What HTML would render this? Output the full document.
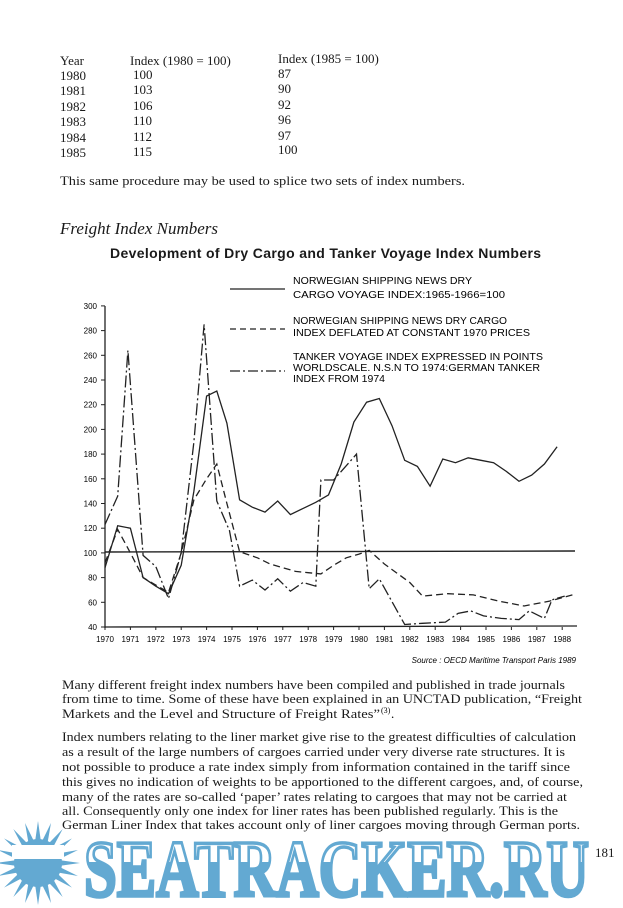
<!DOCTYPE html>
<html><head><meta charset="utf-8"><style>
body{margin:0;width:623px;height:908px;background:#fff;overflow:hidden;position:relative;font-family:"Liberation Serif",serif;color:#1a1a1a}
.t{position:absolute;font-size:13px;white-space:nowrap;line-height:1}
</style></head><body>
<div class="t" style="left:60px;top:54px">Year</div><div class="t" style="left:130px;top:54px">Index (1980 = 100)</div><div class="t" style="left:278px;top:52px">Index (1985 = 100)</div>
<div class="t" style="left:60px;top:69px">1980</div><div class="t" style="left:133px;top:68px">100</div><div class="t" style="left:278px;top:67px">87</div>
<div class="t" style="left:60px;top:84px">1981</div><div class="t" style="left:133px;top:83px">103</div><div class="t" style="left:278px;top:82px">90</div>
<div class="t" style="left:60px;top:100px">1982</div><div class="t" style="left:133px;top:99px">106</div><div class="t" style="left:278px;top:98px">92</div>
<div class="t" style="left:60px;top:115px">1983</div><div class="t" style="left:133px;top:114px">110</div><div class="t" style="left:278px;top:113px">96</div>
<div class="t" style="left:60px;top:131px">1984</div><div class="t" style="left:133px;top:130px">112</div><div class="t" style="left:278px;top:129px">97</div>
<div class="t" style="left:60px;top:146px">1985</div><div class="t" style="left:133px;top:145px">115</div><div class="t" style="left:278px;top:143px">100</div>
<div class="t" style="left:60px;top:220px;font-size:17px;font-style:italic">Freight Index Numbers</div>
<div class="t" style="left:110px;top:246px;font-family:'Liberation Sans',sans-serif;font-weight:bold;font-size:14px;letter-spacing:0.35px">Development of Dry Cargo and Tanker Voyage Index Numbers</div>

<svg id="c" width="623" height="908" style="position:absolute;left:0;top:0" font-family="Liberation Sans, sans-serif"></svg>
<div class="t" style="left:595px;top:846px">181</div>

<script>
const s=document.getElementById('c');let h='';
const X=y=>105+(y-1970)*25.4, Y=v=>627-(v-40)*1.235;
const pl=(d,extra)=>{let p=d.map(a=>X(a[0]).toFixed(1)+','+Y(a[1]).toFixed(1)).join(' ');h+=`<polyline points="${p}" fill="none" stroke="#222" stroke-width="1.3" ${extra}/>`;};
h+=`<line x1="105" y1="306" x2="105" y2="628" stroke="#222" stroke-width="1.3"/><line x1="105" y1="627" x2="577" y2="626" stroke="#222" stroke-width="1.3"/>`;
for(let v=40;v<=300;v+=20){h+=`<line x1="101" x2="105" y1="${Y(v)}" y2="${Y(v)}" stroke="#222"/><text x="97" y="${Y(v)+3}" font-size="8" text-anchor="end">${v}</text>`;}
for(let y=1970;y<=1988;y++){h+=`<line x1="${X(y)}" x2="${X(y)}" y1="627" y2="630" stroke="#222"/><text x="${X(y)}" y="642" font-size="8" text-anchor="middle">${y}</text>`;}
h+=`<line x1="105" y1="552" x2="575" y2="551" stroke="#222" stroke-width="1.4"/>`;
pl([[1970,88],[1970.5,122],[1971,120],[1971.5,80],[1972,73],[1972.5,67],[1973,90],[1973.5,150],[1974,227],[1974.4,231],[1974.8,205],[1975.3,143],[1975.8,137],[1976.3,133],[1976.8,142],[1977.3,131],[1977.8,136],[1978.3,141],[1978.8,147],[1979.3,172],[1979.8,206],[1980.3,222],[1980.8,225],[1981.3,203],[1981.8,175],[1982.3,170],[1982.8,154],[1983.3,176],[1983.8,173],[1984.3,177],[1984.8,175],[1985.3,173],[1985.8,166],[1986.3,158],[1986.8,163],[1987.3,172],[1987.8,186]],'');
pl([[1970,92],[1970.5,119],[1971,100],[1971.5,80],[1972,74],[1972.5,68],[1973,100],[1973.5,143],[1974,160],[1974.4,172],[1974.8,140],[1975.3,101],[1976,96],[1976.5,91],[1977,88],[1977.5,85],[1978,84],[1978.5,83],[1979,90],[1979.5,96],[1980,99],[1980.4,102],[1981,91],[1982,76],[1982.5,65],[1983.5,67],[1984.5,66],[1985.5,61],[1986.5,57],[1987.5,61],[1988.4,66]],'stroke-dasharray="7 4"');
pl([[1970,123],[1970.5,146],[1970.9,264],[1971.5,98],[1972,89],[1972.5,63],[1973,100],[1973.5,190],[1973.9,285],[1974.4,142],[1974.9,118],[1975.3,73],[1975.8,78],[1976.3,70],[1976.8,79],[1977.3,69],[1977.8,76],[1978.3,73],[1978.5,159],[1979,159],[1979.9,180],[1980.4,71],[1980.8,79],[1981.8,42],[1982.5,43],[1983.4,44],[1983.9,51],[1984.4,53],[1984.9,49],[1985.6,47],[1986.3,46],[1986.7,53],[1987.3,47],[1987.6,62],[1988.1,65]],'stroke-dasharray="12 3 2 3"');
h+=`<line x1="230" x2="285" y1="289" y2="289" stroke="#222" stroke-width="1.2"/><line x1="230" x2="285" y1="329" y2="329" stroke="#222" stroke-width="1.2" stroke-dasharray="6 4"/><line x1="230" x2="285" y1="371" y2="371" stroke="#222" stroke-width="1.2" stroke-dasharray="10 3 2 3"/>`;
const L=[[284,'NORWEGIAN SHIPPING NEWS DRY',179],[298,'CARGO VOYAGE INDEX:1965-1966=100',212],[324,'NORWEGIAN SHIPPING NEWS DRY CARGO',214],[336,'INDEX DEFLATED AT CONSTANT 1970 PRICES',237],[360,'TANKER VOYAGE INDEX EXPRESSED IN POINTS',250],[371,'WORLDSCALE. N.S.N TO 1974:GERMAN TANKER',247],[382,'INDEX FROM 1974',92]];
L.forEach(a=>h+=`<text x="293" y="${a[0]}" font-size="10" textLength="${a[2]}" lengthAdjust="spacingAndGlyphs">${a[1]}</text>`);
h+=`<text x="576" y="663" font-size="8" font-style="italic" text-anchor="end">Source : OECD Maritime Transport Paris 1989</text>`;
const B=[[60,185,405,'This same procedure may be used to splice two sets of index numbers.'],
[62,689,503,'Many different freight index numbers have been compiled and published in trade journals'],
[62,703,520,'from time to time. Some of these have been explained in an UNCTAD publication, “Freight'],
[62,741,514,'Index numbers relating to the liner market give rise to the greatest difficulties of calculation'],
[62,756,503,'as a result of the large numbers of cargoes carried under very diverse rate structures. It is'],
[62,771,508,'not possible to produce a rate index simply from information contained in the tariff since'],
[62,786,521,'this gives no indication of weights to be apportioned to the different cargoes, and, of course,'],
[62,801,505,'many of the rates are so-called ‘paper’ rates relating to cargoes that may not be carried at'],
[62,815,496,'all. Consequently only one index for liner rates has been published regularly. This is the'],
[62,829,518,'German Liner Index that takes account only of liner cargoes moving through German ports.']];
B.forEach(b=>h+=`<text x="${b[0]}" y="${b[1]}" font-family="Liberation Serif, serif" font-size="13" fill="#1a1a1a" textLength="${b[2]}" lengthAdjust="spacingAndGlyphs">${b[3]}</text>`);
h+=`<text x="62" y="718" font-family="Liberation Serif, serif" font-size="13" fill="#1a1a1a" textLength="318" lengthAdjust="spacingAndGlyphs">Markets and the Level and Structure of Freight Rates”</text><text x="381" y="713" font-family="Liberation Serif, serif" font-size="8">(3)</text><text x="391" y="718" font-family="Liberation Serif, serif" font-size="13">.</text>`;
let sun='';for(let i=0;i<20;i++){const a=i*Math.PI*2/20,b=a+0.16,c=a-0.16;sun+=`<polygon points="${38+Math.cos(a)*42},${863+Math.sin(a)*42} ${38+Math.cos(b)*20},${863+Math.sin(b)*20} ${38+Math.cos(c)*20},${863+Math.sin(c)*20}" fill="#63a9d2"/>`;}
h+=sun+`<circle cx="38" cy="863" r="24" fill="#63a9d2"/><rect x="12" y="845" width="52" height="14" fill="#fff"/>`;
h+=`<defs><clipPath id="lo"><rect x="0" y="862" width="623" height="50"/></clipPath></defs>`;
const T=`font-family="Liberation Serif, serif" font-weight="bold" font-size="80" textLength="505" lengthAdjust="spacingAndGlyphs"`;
h+=`<text x="84" y="896" ${T} fill="none" stroke="#63a9d2" stroke-width="3.5">SEATRACKER.RU</text>`;
h+=`<text x="84" y="896" ${T} fill="#63a9d2" clip-path="url(#lo)">SEATRACKER.RU</text>`;
s.innerHTML=h;
</script>
</body></html>
